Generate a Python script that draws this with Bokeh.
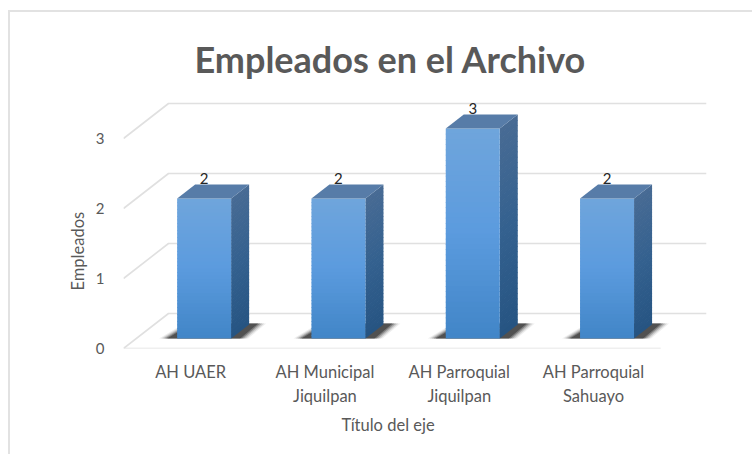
from bokeh.plotting import figure
from bokeh.models import Range1d, FixedTicker, Title
from bokeh.core.properties import value
from bokeh.embed import file_html
from bokeh.resources import INLINE

categories = ["AH UAER", "AH Municipal\nJiquilpan", "AH Parroquial\nJiquilpan", "AH Parroquial\nSahuayo"]
empleados = [2, 2, 3, 2]
y_ticks = [0, 1, 2, 3]
chart_title = "Empleados en el Archivo"
x_title = "Título del eje"
y_title = "Empleados"
FONT = "Lato"

# page-pixel geometry
ORG_X, ORG_Y = 8, 10   # figure's top-left on the page (border included)
BW = 2                 # border width
PX_X = 134.3           # px per category
PX_Y = 70.0            # px per value unit
F_L, F_R, F_T, F_B = 123, 706, 88, 348
W, H = 744, 444

def dx(px): return px / PX_X
def dy(px): return px / PX_Y

x0 = -0.5
p = figure(width=W, height=H, output_backend="svg", toolbar_location=None,
           x_range=Range1d(x0, x0 + (F_R - F_L) / PX_X),
           y_range=Range1d(0, (F_B - F_T) / PX_Y),
           min_border_left=F_L - ORG_X - BW, min_border_right=ORG_X + BW + W - F_R,
           min_border_top=F_T - ORG_Y - BW, min_border_bottom=ORG_Y + BW + H - F_B)
p.outline_line_color = None
p.grid.visible = False
p.background_fill_color = "white"
p.border_fill_color = "white"
p.styles = {"margin-left": f"{ORG_X}px", "margin-top": f"{ORG_Y}px",
            "border-left": f"{BW}px solid #e2e2e2", "border-top": f"{BW}px solid #e2e2e2"}

# y axis
yax = p.yaxis[0]
yax.ticker = FixedTicker(ticks=y_ticks)
yax.axis_line_color = None
yax.major_tick_line_color = None
yax.minor_tick_line_color = None
yax.major_label_standoff = 13
yax.major_label_text_font = FONT
yax.major_label_text_font_size = "15px"
yax.major_label_text_color = "#595959"

# x axis
xax = p.xaxis[0]
xax.ticker = FixedTicker(ticks=list(range(len(categories))))
xax.major_label_overrides = {i: c for i, c in enumerate(categories)}
xax.axis_line_color = None
xax.major_tick_line_color = None
xax.minor_tick_line_color = None
xax.major_label_standoff = 7
xax.major_label_text_font = FONT
xax.major_label_text_font_size = "16.5px"
xax.major_label_text_color = "#595959"

# walls: 3-D depth
WALL_DX, WALL_DY = dx(45), dy(35)
GRID = "#e0e0e0"
for t in y_ticks:
    p.line([x0, x0 + WALL_DX, x0 + (F_R - F_L) / PX_X], [t, t + WALL_DY, t + WALL_DY],
           line_color=GRID, line_width=1.6)
p.line([x0, x0 + len(categories)], [0, 0], line_color=GRID, line_width=1.6)

BAR_W = dx(54)
OFF_X, OFF_Y = dx(13.5), dy(10)
D_X, D_Y = dx(18), dy(14)

def hexc(c): return "#%02x%02x%02x" % tuple(int(round(v)) for v in c)

def grad(stops, t):
    for (t0, c0), (t1, c1) in zip(stops, stops[1:]):
        if t <= t1:
            f = (t - t0) / (t1 - t0)
            return hexc([a + (b - a) * f for a, b in zip(c0, c1)])
    return hexc(stops[-1][1])

FRONT = [(0, (111, 165, 220)), (0.5, (91, 155, 222)), (1, (65, 133, 199))]
SIDE = [(0, (72, 107, 148)), (0.5, (52, 97, 143)), (1, (38, 84, 130))]
TOP = "#577ca8"
N = 40

for i, v in enumerate(empleados):
    l = i + OFF_X - BAR_W / 2
    r = l + BAR_W
    b = OFF_Y
    tp = v + OFF_Y
    # shadow on the floor
    for grow, a in [(7, 0.08), (5, 0.14), (3, 0.22), (1, 0.35), (-1, 0.5)]:
        shx = [l - dx(11 + grow), r + dx(10 + grow), r + dx(28 + grow), l + dx(14 - grow)]
        shy = [b, b, b + dy(15), b + dy(15)]
        p.patch(shx, shy, fill_color="#262626", fill_alpha=a, line_color=None)
    # side and front faces, in bands from top to bottom
    for k in range(N):
        t0, t1 = k / N, (k + 1) / N
        y_hi = tp - (tp - b) * t0
        y_lo = tp - (tp - b) * t1 - 0.01 * (k < N - 1)
        col = grad(SIDE, (t0 + t1) / 2)
        p.patch([r, r + D_X, r + D_X, r], [y_lo, y_lo + D_Y, y_hi + D_Y, y_hi],
                fill_color=col, line_color=None)
        col = grad(FRONT, (t0 + t1) / 2)
        p.quad(left=[l], right=[r], bottom=[y_lo], top=[y_hi], fill_color=col, line_color=None)
    # top face
    p.patch([l, r, r + D_X, l + D_X], [tp, tp, tp + D_Y, tp + D_Y], fill_color=TOP, line_color=None)

# value labels
p.text(x=[i + OFF_X for i in range(len(empleados))],
       y=[v + OFF_Y + dy(20) for v in empleados],
       text=[str(v) for v in empleados],
       text_font=value(FONT), text_font_size="15px", text_color="#262626",
       text_align="center", text_baseline="middle")

# titles, positioned by frame offsets
p.add_layout(Title(text=chart_title, align="left", offset=194 - F_L, standoff=16,
                   text_font=FONT, text_font_style="bold", text_font_size="36px",
                   text_color="#595959"), "above")
p.add_layout(Title(text=x_title, align="left", offset=341 - F_L, standoff=8,
                   text_font=FONT, text_font_style="normal", text_font_size="16.5px",
                   text_color="#595959"), "below")
p.add_layout(Title(text=y_title, align="left", offset=F_B - 290, standoff=10,
                   text_font=FONT, text_font_style="normal", text_font_size="16.5px",
                   text_color="#595959"), "left")

open("out.html", "w").write(file_html(p, INLINE))
